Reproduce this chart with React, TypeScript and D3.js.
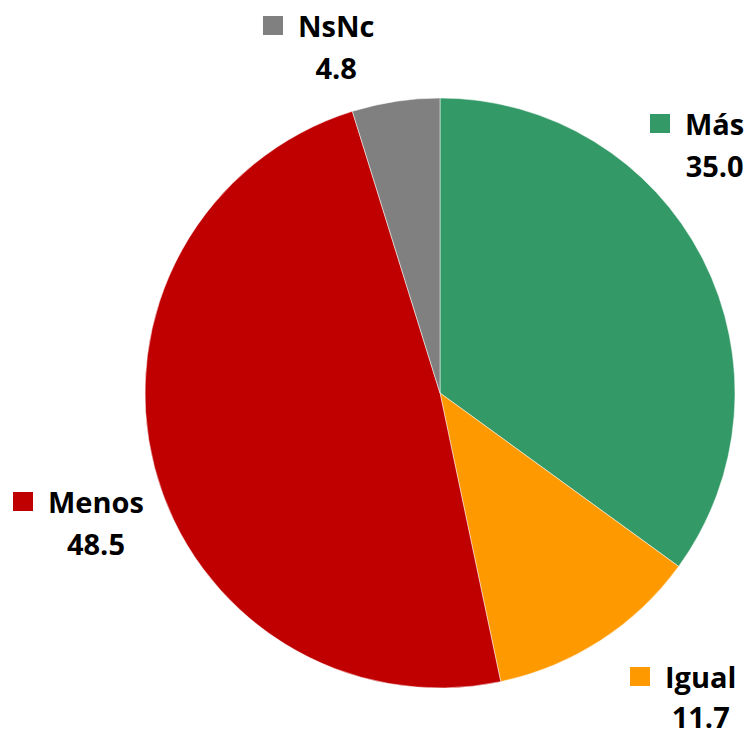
import React, { useLayoutEffect, useRef } from "react";
import * as d3 from "d3";

const categories = ["Más", "Igual", "Menos", "NsNc"];
const values = [35.0, 11.7, 48.5, 4.8];
const colors = ["#339966", "#FF9900", "#C00000", "#808080"];
const valueLabels = ["35.0", "11.7", "48.5", "4.8"];

// square left edge and baseline of the name line
const labelPos: [number, number][] = [
  [650, 135],
  [630, 688],
  [13, 513],
  [263, 37],
];

const App = () => {
  const width = 753;
  const height = 731;
  const cx = 440;
  const cy = 393;
  const radius = 295;
  const fontSize = 29;

  const svgRef = useRef<SVGSVGElement>(null);

  const pie = d3
    .pie<number>()
    .sort(null)
    .value((d) => d);
  const arcs = pie(values);
  const arc = d3.arc<d3.PieArcDatum<number>>().innerRadius(0).outerRadius(radius);

  // center each value under its name
  useLayoutEffect(() => {
    const svg = d3.select(svgRef.current);
    svg.selectAll<SVGGElement, unknown>(".lbl").each(function () {
      const g = d3.select(this);
      const name = g.select<SVGTextElement>(".name").node();
      if (!name) return;
      const x0 = +g.select(".name").attr("x");
      const w = name.getComputedTextLength();
      g.select(".val").attr("x", x0 + w / 2);
    });
  }, []);

  return (
    <svg
      ref={svgRef}
      width={width}
      height={height}
      style={{ position: "absolute", left: 0, top: 0 }}
      fontFamily="'Open Sans', sans-serif"
    >
      <g transform={`translate(${cx},${cy})`}>
        {arcs.map((a, i) => (
          <path key={categories[i]} d={arc(a) || ""} fill={colors[i]} stroke="#fff" strokeWidth={0.5} />
        ))}
      </g>
      {categories.map((c, i) => {
        const [x, y] = labelPos[i];
        return (
          <g key={c} className="lbl">
            <rect x={x} y={y - 21} width={20} height={19} fill={colors[i]} />
            <text className="name" x={x + 35} y={y} fontSize={fontSize} fontWeight="bold" fill="#000">
              {c}
            </text>
            <text
              className="val"
              x={x + 35}
              y={y + (i === 1 ? 40 : 42)}
              fontSize={fontSize}
              fontWeight="bold"
              textAnchor="middle"
              fill="#000"
            >
              {valueLabels[i]}
            </text>
          </g>
        );
      })}
    </svg>
  );
};

export default App;
